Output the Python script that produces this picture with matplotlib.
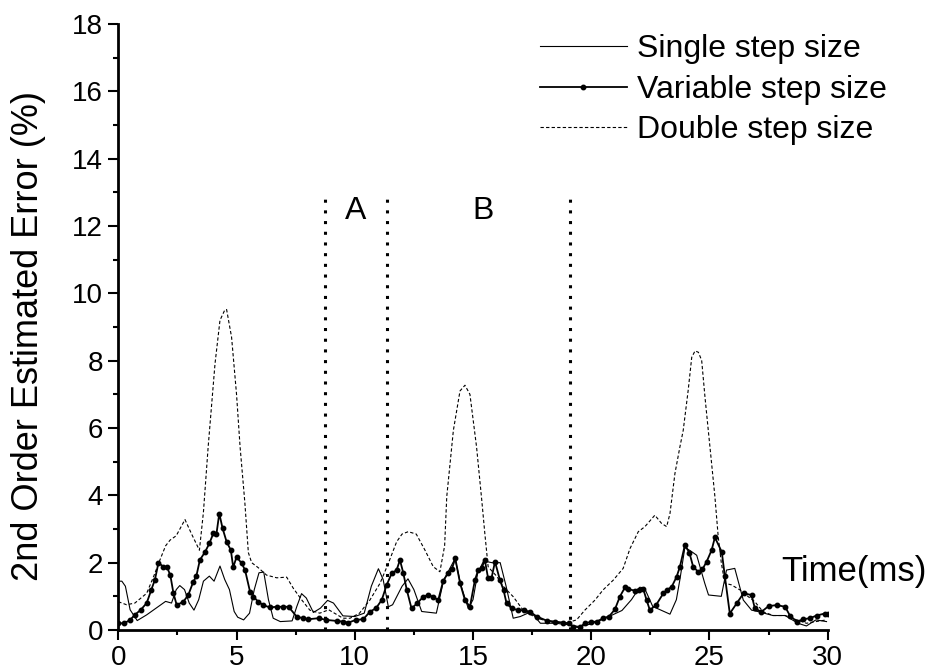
import matplotlib
matplotlib.use("Agg")
import matplotlib.pyplot as plt
from matplotlib.ticker import MultipleLocator

plt.rcParams["font.family"] = ["Liberation Sans", "DejaVu Sans"]

# Single step size (thin solid)
single_t = [0.0, 0.15, 0.3, 0.5, 0.8, 1.2, 1.6, 2.0, 2.25, 2.45, 2.6, 2.8, 3.0, 3.2, 3.4, 3.6,
            3.85, 4.05, 4.3, 4.5, 4.7, 4.9, 5.05, 5.3, 5.55, 5.75, 5.95, 6.15, 6.35, 6.55, 6.85,
            7.35, 7.55, 7.75, 7.95, 8.25, 8.55, 8.85, 9.1, 9.5, 10.0, 10.4, 10.7, 11.0, 11.2,
            11.42, 11.6, 12.0, 12.25, 12.5, 12.83, 13.45, 13.75, 14.0, 14.24, 14.5, 14.8, 15.0,
            15.2, 15.45, 15.8, 16.15, 16.4, 16.7, 17.0, 17.45, 17.85, 18.5, 19.1, 19.5, 20.0,
            20.6, 21.3, 21.7, 22.05, 22.25, 22.6, 23.33, 23.6, 23.75, 23.96, 24.2, 24.46, 24.8,
            24.96, 25.5, 25.72, 26.07, 26.43, 26.78, 27.1, 27.68, 28.2, 28.74, 29.1, 29.5, 29.95]
single_err = [1.45, 1.45, 1.3, 0.6, 0.28, 0.45, 0.65, 0.85, 0.8, 1.2, 1.32, 1.2, 0.8, 0.59, 0.9, 1.45,
              1.6, 1.45, 1.9, 1.5, 1.2, 0.55, 0.38, 0.3, 0.5, 1.2, 1.7, 1.72, 0.9, 0.35, 0.25,
              0.27, 0.7, 1.08, 0.95, 0.52, 0.65, 0.88, 0.8, 0.42, 0.4, 0.5, 1.3, 1.82, 1.5,
              0.69, 0.75, 1.3, 1.52, 1.2, 0.55, 0.5, 1.45, 1.8, 2.12, 1.3, 0.64, 0.9,
              1.7, 2.05, 2.0, 2.0, 1.3, 0.35, 0.4, 0.54, 0.2, 0.2, 0.15, 0.1, 0.18,
              0.35, 0.58, 0.9, 1.27, 1.25, 0.7, 0.47, 0.9, 1.5, 2.45, 2.35, 2.22, 1.39,
              1.04, 1.0, 1.78, 1.83, 0.89, 0.59, 0.54, 0.43, 0.43, 0.2, 0.12, 0.3, 0.25]

# Variable step size (solid with dots)
var_t = [0.0, 0.25, 0.5, 0.7, 0.95, 1.2, 1.4, 1.55, 1.7, 1.9, 2.05, 2.2, 2.33, 2.47, 2.75, 2.96,
         3.17, 3.3, 3.45, 3.67, 3.85, 4.02, 4.15, 4.27, 4.41, 4.58, 4.76, 4.86, 5.0, 5.22, 5.36,
         5.57, 5.71, 5.92, 6.13, 6.41, 6.7, 6.95, 7.2, 7.54, 7.8, 8.04, 8.47, 8.8, 9.23, 9.5,
         9.73, 10.05, 10.36, 10.64, 10.9, 11.14, 11.35, 11.56, 11.77, 11.91, 12.05, 12.2, 12.4,
         12.65, 12.9, 13.1, 13.3, 13.53, 13.74, 13.95, 14.1, 14.25, 14.45, 14.66, 14.87, 15.08,
         15.22, 15.36, 15.5, 15.64, 15.78, 15.93, 16.14, 16.29, 16.42, 16.64, 16.91, 17.15,
         17.41, 17.7, 18.11, 18.46, 18.82, 19.05, 19.24, 19.52, 19.73, 20.0, 20.24, 20.5, 20.75,
         21.0, 21.21, 21.43, 21.57, 21.85, 22.0, 22.2, 22.34, 22.48, 22.75, 23.05, 23.22, 23.4,
         23.61, 23.75, 23.96, 24.15, 24.31, 24.52, 24.7, 24.88, 25.09, 25.23, 25.52, 25.65,
         25.86, 26.15, 26.44, 26.78, 26.92, 27.2, 27.5, 27.85, 28.2, 28.4, 28.69, 28.97, 29.25,
         29.53, 29.88, 30.0]
var_err = [0.2, 0.2, 0.3, 0.45, 0.6, 0.8, 1.2, 1.5, 2.0, 1.88, 1.88, 1.63, 1.1, 0.74, 0.84, 1.04,
           1.43, 1.6, 2.08, 2.32, 2.57, 2.87, 2.85, 3.46, 3.02, 2.62, 2.37, 1.86, 2.17, 1.98, 1.78,
           1.14, 0.99, 0.84, 0.74, 0.67, 0.69, 0.69, 0.69, 0.4, 0.35, 0.32, 0.35, 0.3, 0.27, 0.25,
           0.22, 0.3, 0.32, 0.54, 0.65, 0.89, 1.34, 1.68, 1.78, 2.08, 1.7, 1.19, 0.64,
           0.8, 0.99, 1.04, 0.99, 0.89, 1.46, 1.7, 1.8, 2.13, 1.4, 0.89, 0.69, 1.48,
           1.78, 1.83, 2.08, 1.53, 1.53, 2.03, 1.48, 1.19, 0.79, 0.64, 0.59, 0.59,
           0.54, 0.4, 0.28, 0.25, 0.22, 0.2, 0.1, 0.08, 0.2, 0.24, 0.25, 0.35, 0.4,
           0.61, 0.99, 1.27, 1.21, 1.17, 1.2, 1.22, 0.89, 0.59, 0.75, 1.09, 1.2, 1.28,
           1.58, 1.88, 2.52, 2.3, 1.88, 1.73, 1.8, 2.03, 2.37, 2.75, 2.32, 1.6,
           0.49, 0.79, 1.09, 1.04, 0.64, 0.54, 0.71, 0.74, 0.69, 0.43, 0.25, 0.32, 0.35,
           0.43, 0.49, 0.49]

# Double step size (dashed)
double_t = [0.0, 0.35, 0.7, 1.2, 1.5, 1.76, 2.0, 2.19, 2.45, 2.82, 3.1, 3.43, 3.6, 3.8, 4.09, 4.3,
            4.5, 4.58, 4.79, 5.0, 5.15, 5.35, 5.5, 5.64, 5.92, 6.27, 6.7, 7.12, 7.4, 7.75, 8.1,
            8.52, 8.9, 9.5, 9.8, 10.2, 10.64, 11.07, 11.42, 11.77, 12.0, 12.26, 12.6, 12.97,
            13.32, 13.6, 13.8, 13.89, 14.17, 14.45, 14.66, 14.87, 15.15, 15.37, 15.5, 15.64,
            15.8, 16.0, 16.29, 16.7, 17.12, 17.7, 18.4, 19.0, 19.38, 19.73, 20.16, 20.5, 20.93,
            21.35, 21.64, 21.99, 22.27, 22.69, 22.97, 23.19, 23.33, 23.54, 23.75, 23.89, 24.1,
            24.25, 24.39, 24.53, 24.67, 24.81, 24.95, 25.09, 25.23, 25.37, 25.5, 25.65, 25.93,
            26.29, 26.64, 26.92, 27.27, 27.7, 28.2, 28.69, 29.1, 29.5, 29.95]
double_err = [0.84, 0.75, 0.8, 1.09, 1.6, 2.08, 2.5, 2.67, 2.8, 3.28, 2.85, 2.37, 3.5, 5.44, 7.91, 9.2,
              9.5, 9.52, 8.7, 7.0, 5.44, 3.8, 2.3, 2.0, 1.85, 1.63, 1.55, 1.57, 1.24, 0.9, 0.59,
              0.5, 0.6, 0.35, 0.35, 0.5, 0.89, 1.39, 1.98, 2.62, 2.85, 2.92, 2.85, 2.37,
              1.88, 1.73, 2.5, 3.96, 5.93, 7.1, 7.27, 7.0, 5.44, 3.86, 2.87, 1.88,
              1.75, 1.6, 1.29, 0.99, 0.59, 0.35, 0.22, 0.22, 0.3, 0.59, 0.89, 1.19, 1.48,
              1.83, 2.42, 2.92, 3.07, 3.41, 3.17, 3.07, 3.46, 4.65, 5.44, 5.93, 7.12,
              8.1, 8.29, 8.25, 8.01, 6.92, 5.93, 4.95, 3.96, 2.77, 2.0, 1.39, 1.34,
              1.19, 0.99, 0.84, 0.54, 0.43, 0.43, 0.3, 0.2, 0.25, 0.3]

# region boundaries (ms)
boundaries = [8.75, 11.36, 19.1]
boundary_top = 12.8

fig = plt.figure(figsize=(9.35, 6.71), dpi=100)
ax = fig.add_axes([118.3 / 935, 41 / 671, 709.4 / 935, 606 / 671])

ax.plot(single_t, single_err, color="black", lw=0.8, label="Single step size")
ax.plot(var_t, var_err, color="black", lw=1.3, marker="o", markersize=3.2,
        label="Variable step size")
ax.plot(double_t, double_err, color="black", lw=0.8, linestyle=(0, (3, 2)),
        label="Double step size")

ax.vlines(boundaries, 0, boundary_top, colors="black", lw=2.2, linestyles=[(0, (1, 2.5))])

ax.text(10.05, 12.45, "A", fontsize=23, ha="center", va="center")
ax.text(15.42, 12.45, "B", fontsize=23, ha="center", va="center")
ax.text(28.05, 1.75, "Time(ms)", fontsize=25, ha="left", va="center", clip_on=False)

ax.set_xlim(0, 30)
ax.set_ylim(0, 18)
ax.xaxis.set_major_locator(MultipleLocator(5))
ax.xaxis.set_minor_locator(MultipleLocator(2.5))
ax.yaxis.set_major_locator(MultipleLocator(2))
ax.yaxis.set_minor_locator(MultipleLocator(1))

for side in ["top", "right"]:
    ax.spines[side].set_visible(False)
for side in ["left", "bottom"]:
    ax.spines[side].set_linewidth(2)

ax.tick_params(which="major", direction="out", length=7, width=1.5, labelsize=20, pad=4)
ax.tick_params(which="minor", direction="out", length=3.6, width=1.5)

ax.set_ylabel("2nd Order Estimated Error (%)", fontsize=26)
ax.yaxis.set_label_coords(-0.102, 0.485)

ax.legend(loc="upper left", bbox_to_anchor=(540 / 935, 0.949), bbox_transform=fig.transFigure,
          frameon=False, fontsize=23, handlelength=2.72, handletextpad=0.31,
          labelspacing=0.33, borderpad=0, borderaxespad=0)

fig.savefig("out.png", dpi=100)
